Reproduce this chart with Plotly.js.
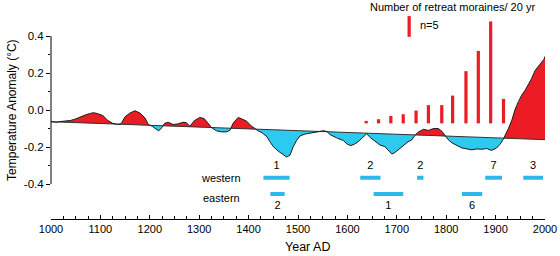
<!DOCTYPE html>
<html>
<head>
<meta charset="utf-8">
<script src="https://cdn.plot.ly/plotly-3.0.1.min.js"></script>
<style>html,body{margin:0;padding:0;background:#fff;}#chart{width:560px;height:256px;}</style>
</head>
<body>
<div id="chart"></div>
<script>
// Temperature anomaly curve (°C)
const years = [1000,1010,1020,1030,1040,1050,1060,1070,1080,1086,1095,1105,1115,1125,1135,1142,1150,1160,1170,1180,1190,1197,1205,1212,1218,1224,1230,1237,1247,1257,1267,1274,1281,1290,1301,1310,1318,1325,1335,1345,1355,1362,1369,1379,1388,1396,1405,1413,1420,1427,1437,1443,1450,1460,1470,1477,1484,1490,1497,1504,1514,1524,1534,1544,1551,1558,1565,1578,1592,1600,1607,1614,1622,1629,1639,1646,1656,1666,1676,1683,1690,1696,1706,1716,1723,1730,1737,1744,1754,1764,1774,1784,1791,1798,1804,1812,1822,1832,1842,1852,1862,1872,1882,1892,1902,1909,1915,1920,1926,1933,1939,1946,1953,1960,1966,1973,1980,1986,1993,1998,2000];
const anomaly = [-0.062,-0.066,-0.062,-0.060,-0.056,-0.048,-0.036,-0.026,-0.018,-0.014,-0.020,-0.030,-0.056,-0.072,-0.078,-0.074,-0.036,-0.016,-0.004,-0.016,-0.042,-0.078,-0.088,-0.100,-0.113,-0.096,-0.072,-0.066,-0.078,-0.075,-0.066,-0.068,-0.088,-0.058,-0.040,-0.046,-0.070,-0.095,-0.112,-0.118,-0.118,-0.110,-0.070,-0.040,-0.050,-0.060,-0.085,-0.100,-0.114,-0.122,-0.144,-0.171,-0.198,-0.222,-0.243,-0.254,-0.243,-0.200,-0.165,-0.140,-0.130,-0.126,-0.121,-0.117,-0.112,-0.115,-0.133,-0.150,-0.165,-0.185,-0.192,-0.185,-0.171,-0.153,-0.128,-0.148,-0.171,-0.189,-0.198,-0.220,-0.238,-0.230,-0.207,-0.189,-0.171,-0.162,-0.135,-0.118,-0.104,-0.110,-0.100,-0.100,-0.114,-0.138,-0.160,-0.178,-0.192,-0.205,-0.210,-0.215,-0.210,-0.212,-0.208,-0.218,-0.205,-0.185,-0.160,-0.135,-0.100,-0.054,0.000,0.045,0.081,0.108,0.135,0.171,0.214,0.234,0.252,0.275,0.290];
// Linear trend line
const trendYears = [1000, 2000];
const trendVals = [-0.063, -0.160];
// Retreat moraines per 20 yr
const moraineYears = [1638,1663,1688,1713,1739,1764,1791,1813,1840,1865,1890,1916];
const moraineCounts = [0.6,1,1.8,2.2,3.1,4.4,4.4,6.7,12.6,17.5,24.6,5.9];
const moraineBase = -0.072;
const moraineScale = 0.0224; // anomaly units per moraine
const legendYear = [1725];
const legendCount = [5];
const legendBase = 0.396;
// Moraine age groups
const westernStart = [1430,1626,1741,1879,1956];
const westernEnd = [1483,1667,1754,1913,1996];
const westernN = ['1','2','2','7','3'];
const easternStart = [1444,1653,1832];
const easternEnd = [1473,1713,1873];
const easternN = ['2','1','6'];

const RED = '#ec1c24', CYAN = '#2dcaf0', BAR_CYAN = '#2bb8ec';
const FONT = 'Liberation Sans, Arial, Helvetica, sans-serif';

function trendAt(x){
  return trendVals[0] + (trendVals[1]-trendVals[0])*(x-trendYears[0])/(trendYears[1]-trendYears[0]);
}
// insert crossing points between curve and trend
const fx = [], fy = [];
for (let i=0;i<years.length;i++){
  fx.push(years[i]); fy.push(anomaly[i]);
  if (i<years.length-1){
    const d0 = anomaly[i]-trendAt(years[i]);
    const d1 = anomaly[i+1]-trendAt(years[i+1]);
    if (d0*d1<0){
      const f = d0/(d0-d1);
      const xc = years[i]+f*(years[i+1]-years[i]);
      fx.push(xc); fy.push(trendAt(xc));
    }
  }
}
const tr = fx.map(trendAt);
const upper = fy.map((v,i)=>Math.max(v,tr[i]));
const lower = fy.map((v,i)=>Math.min(v,tr[i]));

function segs(s,e,yv){
  const x=[],y=[];
  for(let i=0;i<s.length;i++){ x.push(s[i],e[i],null); y.push(yv,yv,null); }
  return {x,y};
}
const wY = -0.366, eY = -0.454;
const ws = segs(westernStart, westernEnd, wY);
const es = segs(easternStart, easternEnd, eY);
const mid = (s,e)=>s.map((v,i)=>(v+e[i])/2);

const traces = [
  {x:fx, y:tr, mode:'lines', line:{width:0}, hoverinfo:'skip', showlegend:false},
  {x:fx, y:upper, mode:'lines', line:{width:0}, fill:'tonexty', fillcolor:RED, hoverinfo:'skip', showlegend:false},
  {x:fx, y:tr, mode:'lines', line:{width:0}, hoverinfo:'skip', showlegend:false},
  {x:fx, y:lower, mode:'lines', line:{width:0}, fill:'tonexty', fillcolor:CYAN, hoverinfo:'skip', showlegend:false},
  {x:trendYears, y:trendVals, mode:'lines', line:{color:'#333', width:1}, showlegend:false},
  {x:years, y:anomaly, mode:'lines', line:{color:'#1a1a1a', width:1}, showlegend:false},
  {type:'bar', x:moraineYears, y:moraineCounts.map(n=>n*moraineScale), base:moraineBase, width:6.5, marker:{color:RED, line:{width:0}}, showlegend:false},
  {type:'bar', x:legendYear, y:legendCount.map(n=>n*moraineScale), base:legendBase, width:6.5, marker:{color:RED, line:{width:0}}, showlegend:false},
  {x:ws.x, y:ws.y, mode:'lines', line:{color:BAR_CYAN, width:4}, showlegend:false},
  {x:es.x, y:es.y, mode:'lines', line:{color:BAR_CYAN, width:4}, showlegend:false},
  {x:mid(westernStart,westernEnd), y:westernN.map(()=>-0.303), text:westernN, mode:'text', textfont:{family:FONT,size:11,color:'#000'}, showlegend:false},
  {x:mid(easternStart,easternEnd), y:easternN.map(()=>-0.519), text:easternN, mode:'text', textfont:{family:FONT,size:11,color:'#000'}, showlegend:false}
];

const layout = {
  width:560, height:256,
  margin:{l:51, r:15, t:0, b:37, pad:0},
  paper_bgcolor:'#fff', plot_bgcolor:'#fff',
  showlegend:false, barmode:'overlay',
  font:{family:FONT, color:'#000', size:11},
  xaxis:{range:[1000,2000], showgrid:false, zeroline:false, showline:true, linecolor:'#000', linewidth:1,
    ticks:'inside', ticklen:4, tickcolor:'#000', tickvals:[1000,1100,1200,1300,1400,1500,1600,1700,1800,1900,2000],
    tickfont:{size:11, family:FONT},
    minor:{ticks:'inside', ticklen:3, tickcolor:'#000', tick0:1000, dtick:25, showgrid:false}},
  yaxis:{range:[-0.589,0.595], showgrid:false, zeroline:false, showline:false,
    ticks:'outside', ticklen:4, tickcolor:'#000', tickvals:[-0.4,-0.2,0,0.2,0.4], ticktext:['-0.4','-0.2','0.0','0.2','0.4'],
    tickfont:{size:11.5, family:FONT},
    minor:{ticks:'outside', ticklen:2, tickcolor:'#000', tickmode:'array', tickvals:[-0.3,-0.1,0.1,0.3], showgrid:false}},
  shapes:[{type:'line', xref:'paper', yref:'y', x0:0, x1:0, y0:-0.4, y1:0.4, line:{color:'#000', width:1}}],
  annotations:[
    {text:'Number of retreat moraines/ 20 yr', x:1812, y:0.557, xref:'x', yref:'y', showarrow:false, font:{size:11}, xanchor:'center', yanchor:'middle'},
    {text:'n=5', x:1743, y:0.459, xref:'x', yref:'y', showarrow:false, font:{size:11}, xanchor:'left', yanchor:'middle'},
    {text:'western', x:1389, y:-0.366, xref:'x', yref:'y', showarrow:false, font:{size:11}, xanchor:'right', yanchor:'middle'},
    {text:'eastern', x:1387, y:-0.476, xref:'x', yref:'y', showarrow:false, font:{size:11}, xanchor:'right', yanchor:'middle'},
    {text:'Year AD', x:0.52, y:-0.128, xref:'paper', yref:'paper', showarrow:false, font:{size:12.5}, xanchor:'center', yanchor:'middle'},
    {text:'Temperature Anomaly (°C)', x:-0.079, y:0.498, xref:'paper', yref:'paper', showarrow:false, textangle:-90, font:{size:12}, xanchor:'center', yanchor:'middle'}
  ]
};
Plotly.newPlot('chart', traces, layout, {displayModeBar:false, staticPlot:true});
</script>
</body>
</html>
